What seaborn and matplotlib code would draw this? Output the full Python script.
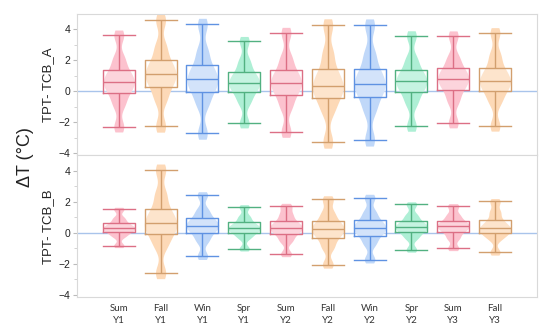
import numpy as np
import pandas as pd
import matplotlib.pyplot as plt
import seaborn as sns

periods = ['Sum\nY1', 'Fall\nY1', 'Win\nY1', 'Spr\nY1', 'Sum\nY2',
           'Fall\nY2', 'Win\nY2', 'Spr\nY2', 'Sum\nY3', 'Fall\nY3']
seasons = ['Sum', 'Fall', 'Win', 'Spr', 'Sum', 'Fall', 'Win', 'Spr', 'Sum', 'Fall']

# TPT - TCB_A : estimated octiles (whisker low, 12.5%, Q1, 37.5%, median, 62.5%, Q3, 87.5%, whisker high)
a_low = [-2.31, -2.27, -2.72, -2.08, -2.63, -3.27, -3.14, -2.27, -2.06, -2.25]
a_p12 = [-0.86, -0.54, -0.84, -0.71, -1.01, -1.26, -1.25, -0.76, -0.63, -0.68]
a_q1 = [-0.13, 0.28, -0.04, -0.08, -0.23, -0.45, -0.38, -0.06, 0.09, 0.00]
a_p37 = [0.30, 0.76, 0.43, 0.29, 0.23, 0.02, 0.13, 0.35, 0.51, 0.40]
a_med = [0.60, 1.10, 0.76, 0.55, 0.55, 0.36, 0.49, 0.64, 0.81, 0.68]
a_p62 = [0.92, 1.47, 1.14, 0.84, 0.89, 0.80, 0.89, 0.94, 1.09, 1.02]
a_q3 = [1.36, 2.00, 1.68, 1.25, 1.36, 1.42, 1.46, 1.36, 1.49, 1.51]
a_p88 = [2.12, 2.90, 2.60, 1.95, 2.17, 2.48, 2.43, 2.08, 2.17, 2.34]
a_high = [3.63, 4.60, 4.33, 3.25, 3.78, 4.27, 4.27, 3.59, 3.59, 3.78]

# TPT - TCB_B
b_low = [-0.83, -2.60, -1.51, -1.03, -1.37, -2.05, -1.73, -1.09, -1.00, -1.26]
b_p12 = [-0.22, -0.82, -0.51, -0.30, -0.52, -0.94, -0.70, -0.33, -0.35, -0.36]
b_q1 = [0.04, -0.10, -0.02, 0.00, -0.10, -0.36, -0.19, 0.02, 0.04, -0.04]
b_p37 = [0.19, 0.32, 0.27, 0.18, 0.15, -0.02, 0.11, 0.22, 0.27, 0.15]
b_med = [0.30, 0.62, 0.47, 0.30, 0.32, 0.22, 0.32, 0.37, 0.43, 0.28]
b_p62 = [0.43, 1.01, 0.67, 0.45, 0.50, 0.44, 0.53, 0.53, 0.58, 0.50]
b_q3 = [0.62, 1.56, 0.96, 0.67, 0.75, 0.75, 0.83, 0.75, 0.79, 0.81]
b_p88 = [0.94, 2.50, 1.45, 1.04, 1.18, 1.28, 1.34, 1.13, 1.15, 1.34]
b_high = [1.52, 4.08, 2.44, 1.67, 1.73, 2.16, 2.27, 1.84, 1.73, 2.03]

edge_colors = {'Sum': '#dc6f85', 'Fall': '#d29f6e', 'Win': '#5f92e2', 'Spr': '#52b181'}
fill_colors = {'Sum': '#fcc2ce', 'Fall': '#fdd9b7', 'Win': '#c0d8f9', 'Spr': '#aeefd5'}


def make_frame(cols):
    rows = []
    for i, p in enumerate(periods):
        for c in cols:
            rows.append((p, c[i]))
    return pd.DataFrame(rows, columns=['period', 'value'])


panels = [(make_frame([a_low, a_p12, a_q1, a_p37, a_med, a_p62, a_q3, a_p88, a_high]), 'TPT- TCB_A', 'width', 0.74),
          (make_frame([b_low, b_p12, b_q1, b_p37, b_med, b_p62, b_q3, b_p88, b_high]), 'TPT- TCB_B', 'area', 0.78)]

edge_pal = {p: edge_colors[s] for p, s in zip(periods, seasons)}
fill_pal = {p: fill_colors[s] for p, s in zip(periods, seasons)}

plt.rcParams['font.family'] = ['Liberation Sans', 'DejaVu Sans']
fig, axes = plt.subplots(2, 1, figsize=(5.5, 3.3), dpi=100, sharex=True)
fig.subplots_adjust(left=0.14, right=0.976, top=0.958, bottom=0.1, hspace=0)

for ax, (d, label, norm, vw) in zip(axes, panels):
    ax.axhline(0, color='#a9c4eb', lw=1, zorder=0.5)
    sns.violinplot(data=d, x='period', y='value', hue='period', palette=fill_pal,
                   inner=None, linewidth=0, density_norm=norm, cut=0.7,
                   bw_adjust=0.42, width=vw, saturation=1, legend=False, ax=ax)
    # white veil inside the boxes
    sns.boxplot(data=d, x='period', y='value', color='white', whis=(0, 100),
                width=0.77, linewidth=0, boxprops=dict(alpha=0.3), ax=ax)
    sns.boxplot(data=d, x='period', y='value', hue='period', palette=edge_pal,
                fill=False, whis=(0, 100), width=0.77, linewidth=1,
                capwidths=0.77, legend=False, ax=ax)
    ax.set_xlim(-1, 10)
    ax.set_ylim(-4.15, 5.0)
    ax.set_yticks([-4, -2, 0, 2, 4])
    ax.set_yticks([-3, -1, 1, 3], minor=True)
    ax.tick_params(axis='y', labelsize=7.5, length=3, color='#bbbbbb', labelcolor='#222222', pad=2)
    ax.tick_params(axis='y', which='minor', length=2, color='#cccccc')
    ax.tick_params(axis='x', length=0)
    ax.set_ylabel(label, fontsize=9.5, labelpad=3, color='#222222')
    ax.set_xlabel('')
    for s in ax.spines.values():
        s.set_color('#d9d9d9')

axes[0].tick_params(axis='x', labelbottom=False)
axes[1].set_xticks(range(len(periods)))
axes[1].set_xticklabels(periods, fontsize=7, family=['Lato', 'DejaVu Sans'],
                        linespacing=1.5, color='#333333')
axes[1].tick_params(axis='x', pad=5)

fig.text(0.047, 0.525, 'ΔT (°C)', rotation=90, fontsize=13, va='center', ha='center',
         color='#222222')

plt.savefig('out.png', dpi=100)
